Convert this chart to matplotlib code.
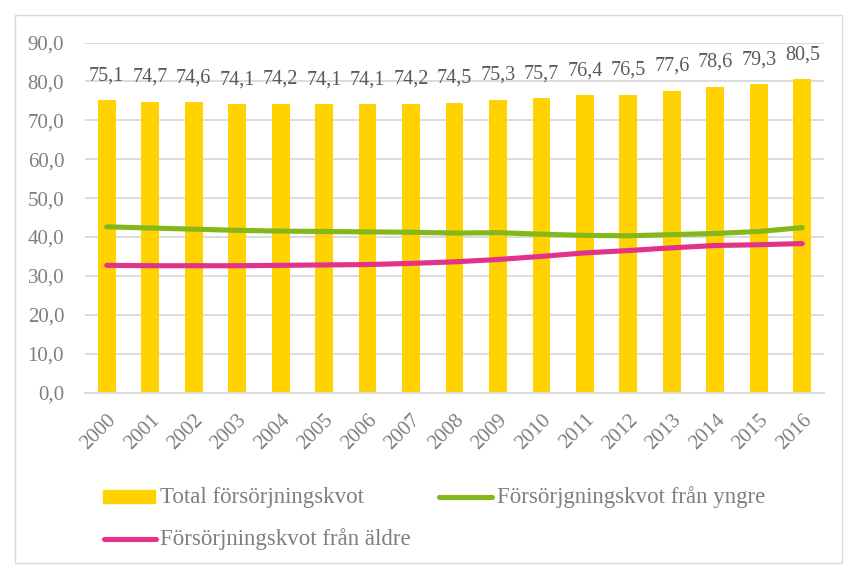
import matplotlib
matplotlib.use("Agg")
import matplotlib.pyplot as plt
from matplotlib.patches import Rectangle
from matplotlib.lines import Line2D
import numpy as np

years = [str(y) for y in range(2000, 2017)]
total = [75.1, 74.7, 74.6, 74.1, 74.2, 74.1, 74.1, 74.2, 74.5, 75.3, 75.7, 76.4, 76.5, 77.6, 78.6, 79.3, 80.5]
yngre = [42.6, 42.3, 42.0, 41.7, 41.5, 41.4, 41.3, 41.2, 41.0, 41.1, 40.7, 40.4, 40.3, 40.6, 40.9, 41.4, 42.4]
aldre = [32.7, 32.6, 32.6, 32.6, 32.7, 32.8, 32.9, 33.2, 33.6, 34.2, 35.0, 35.9, 36.5, 37.2, 37.8, 38.0, 38.3]

label_total = "Total försörjningskvot"
label_yngre = "Försörjgningskvot från yngre"
label_aldre = "Försörjningskvot från äldre"

plt.rcParams['font.family'] = ['Liberation Serif', 'DejaVu Serif']
gray = '#7F7F7F'
dgray = '#595959'
c_bar = '#FFD200'
c_green = '#84B81A'
c_pink = '#E2338B'

W, H = 844, 565
fig = plt.figure(figsize=(W/100, H/100), dpi=100)
fig.patches.append(Rectangle((15/W, 2/H), (842-15)/W, (563-15)/H,
                             transform=fig.transFigure, fill=False,
                             edgecolor='#D9D9D9', lw=1.0))
ax = fig.add_axes([85/W, 1-392.5/H, (824-85)/W, (392.5-42.5)/H])
x = np.arange(len(years))
ax.bar(x, total, width=0.41, color=c_bar, zorder=2)
ax.plot(x, yngre, color=c_green, lw=3.7, solid_capstyle='round', zorder=3)
ax.plot(x, aldre, color=c_pink, lw=3.7, solid_capstyle='round', zorder=3)
for xi, v in zip(x, total):
    ax.text(xi, v + 6.3, f"{v:.1f}".replace('.', ','), ha='center', va='center',
            color=dgray, fontsize=14.5)
ax.set_xlim(-0.5, len(years) - 0.5)
ax.set_ylim(0, 90)
yt = np.arange(0, 91, 10)
ax.set_yticks(yt)
ax.set_yticklabels([f"{v:.1f}".replace('.', ',') for v in yt])
ax.set_xticks(x)
ax.set_xticklabels(years, rotation=45, ha='right', rotation_mode='anchor')
ax.tick_params(axis='both', length=0, colors=gray, labelsize=15)
ax.tick_params(axis='x', pad=13)
ax.tick_params(axis='y', pad=15)
ax.grid(axis='y', color='#D9D9D9', lw=1.3, zorder=0)
for s in ['top', 'right', 'left']:
    ax.spines[s].set_visible(False)
ax.spines['bottom'].set_color('#D9D9D9')
ax.spines['bottom'].set_linewidth(1.3)

# legend (keys drawn in figure pixel coordinates)
def fx(px):
    return px / W

def fy(py):
    return 1 - py / H

fig.patches.append(Rectangle((fx(103), fy(503)), (155-103)/W, 13/H,
                             transform=fig.transFigure, color=c_bar))
fig.text(fx(160), fy(497), label_total, color=gray, fontsize=16.5, va='center', ha='left')
fig.add_artist(Line2D([fx(439), fx(492)], [fy(496.5), fy(496.5)], transform=fig.transFigure,
                      color=c_green, lw=3.7, solid_capstyle='round'))
fig.text(fx(497), fy(497), label_yngre, color=gray, fontsize=16.5, va='center', ha='left')
fig.add_artist(Line2D([fx(104), fx(156)], [fy(538.5), fy(538.5)], transform=fig.transFigure,
                      color=c_pink, lw=3.7, solid_capstyle='round'))
fig.text(fx(160), fy(539), label_aldre, color=gray, fontsize=16.5, va='center', ha='left')

fig.savefig('out.png', dpi=100)
